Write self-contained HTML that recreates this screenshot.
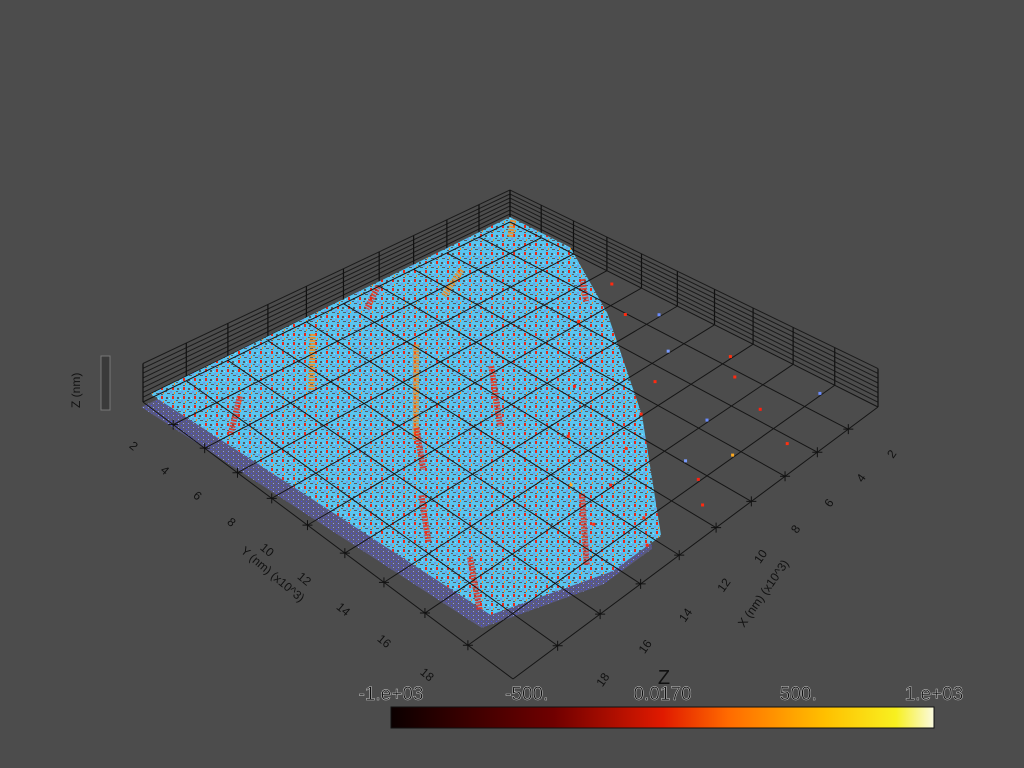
<!DOCTYPE html>
<html><head><meta charset="utf-8"><style>
html,body{margin:0;padding:0;background:#4c4c4c;}
svg{display:block;font-family:"Liberation Sans",sans-serif;}
</style></head><body>
<svg id="chart" width="1024" height="768" viewBox="0 0 1024 768" xmlns="http://www.w3.org/2000/svg">
<defs>
<pattern id="speck" width="11" height="9" patternUnits="userSpaceOnUse">
<rect width="11" height="9" fill="#58c4ef"/>
<rect x="1" y="1" width="2" height="2" fill="#56565c"/>
<rect x="5" y="4" width="2" height="2" fill="#6e9ce6"/>
<rect x="7" y="0" width="2" height="3" fill="#ea2a1a"/>
<rect x="2" y="6" width="3" height="1" fill="#5a5a62"/>
<rect x="4" y="2" width="1" height="1" fill="#8ae2ff"/>
<rect x="9" y="5" width="1" height="2" fill="#ff8a18"/>
<rect x="0" y="4" width="2" height="1" fill="#606068"/>
<rect x="7" y="7" width="2" height="1" fill="#58585e"/>
</pattern>
<pattern id="speck2" width="5" height="4" patternUnits="userSpaceOnUse">
<rect width="5" height="4" fill="#5a5a80"/>
<rect x="1" y="1" width="1" height="1" fill="#4a4af0"/>
<rect x="3" y="3" width="1" height="1" fill="#8c9cf4"/>
</pattern>
<linearGradient id="cbar" x1="0" x2="1" y1="0" y2="0">
<stop offset="0" stop-color="#0b0000"/>
<stop offset="0.3" stop-color="#700000"/>
<stop offset="0.5" stop-color="#e01a00"/>
<stop offset="0.62" stop-color="#ff6a00"/>
<stop offset="0.8" stop-color="#ffc000"/>
<stop offset="0.93" stop-color="#f8f020"/>
<stop offset="1" stop-color="#fafae0"/>
</linearGradient>
</defs>
<g id="walls"></g>
<g id="cloud"></g>
<g id="grid"></g>
<g id="sparse"></g>
<g id="ticks"></g>
<text x="0" y="0" transform="translate(240,552) rotate(40)" font-size="12" fill="#111">Y (nm) (x10^3)</text>
<text x="0" y="0" transform="translate(744,628) rotate(-55)" font-size="12" fill="#111">X (nm) (x10^3)</text>
<text x="0" y="0" transform="translate(80,408) rotate(-90)" font-size="12" fill="#111">Z (nm)</text>
<rect x="101" y="356" width="9" height="54" fill="#3a3a3a" stroke="#777" stroke-width="1"/>
<g>
<text x="664" y="684" font-size="20" text-anchor="middle" fill="#111">Z</text>
<rect x="391" y="707" width="543" height="21" fill="url(#cbar)" stroke="#111" stroke-width="1"/>
<g id="cbticks" font-size="19" fill="#111" stroke="#ccc" stroke-width="0.5"></g>
</g>
</svg>
<script>
const xTicks=[2,4,6,8,10,12,14,16,18];
const yTicks=[2,4,6,8,10,12,14,16,18];
const cbLabels=["-1.e+03","-500.","0.0170","500.","1.e+03"];
const cbValues=[-1000,-500,0.017,500,1000];
// cloud outline in data coords (X,Y) in 10^3 nm (X=0 at right corner side)
const cloudX=[0.2,0.2,3,7.3,12,14.5,18.8,19.8];
const cloudY=[0.2,4,8.7,14.3,19.2,19.2,17.8,0.2];
// red streak clusters
const streakX1=[10.3,9.2,12.4,12.8,17.5,17.5,0.3,8.5,1.8,5,14,16.5];
const streakY1=[4.9,8.1,15.9,1.4,2.8,15.5,0.5,0.5,6.2,2,9,12];
const streakX2=[14.5,11.7,15,15.3,19.2,19,1.5,10,3,7,15.5,18];
const streakY2=[9.5,11.1,18.5,4.4,4.5,17.5,1.5,1.5,7.5,3,11,14];
// sparse outlying points
const sparseX=[0.8,1.2,1.5,2.2,3,3.5,4,5,5.5,6,6.5,7,7.5,8,9,9.5,10,11,11.5,12,12.5,13,1,2.5,4.5,8.5];
const sparseY=[7,10,14,9,12,17,8,13,16,10,18,14,11,17,15,19,13,16,18,15,19,17,18,15,19,18];
const sparseC=["#ff2a10","#6a8cff","#ff3010","#ff2a10","#7a9cff","#ff2010","#ff3010","#ff2a10","#6a8cff","#ff3010","#ffaa20","#ff2a10","#ff2010","#7a9cff","#ff3010","#ff2a10","#ff3010","#ff2010","#ff2a10","#ffaa20","#ff2a10","#ff3010","#6a8cff","#ff2a10","#ff3010","#ff2010"];

const NS="http://www.w3.org/2000/svg";
const P=[[510,222],[143,402],[513,679],[878,407]];
const qx0=P[0][0],qy0=P[0][1],qx1=P[1][0],qy1=P[1][1],qx2=P[2][0],qy2=P[2][1],qx3=P[3][0],qy3=P[3][1];
const dx1=qx1-qx2,dx2=qx3-qx2,dx3=qx0-qx1+qx2-qx3,dy1=qy1-qy2,dy2=qy3-qy2,dy3=qy0-qy1+qy2-qy3;
const den=dx1*dy2-dx2*dy1;
const hg=(dx3*dy2-dx2*dy3)/den,hh=(dx1*dy3-dx3*dy1)/den;
const HA=qx1-qx0+hg*qx1,HB=qx3-qx0+hh*qx3,HC=qx0,HD=qy1-qy0+hg*qy1,HE=qy3-qy0+hh*qy3,HF=qy0;
function proj(X,Y,Z){const u=X/20,v=Y/20,w=hg*u+hh*v+1;return [(HA*u+HB*v+HC)/w,(HD*u+HE*v+HF)/w-(Z||0)/w];}
function mk(tag,attrs,parent){const e=document.createElementNS(NS,tag);for(const k in attrs)e.setAttribute(k,attrs[k]);parent.appendChild(e);return e;}
function pts(arr){return arr.map(p=>p[0].toFixed(1)+","+p[1].toFixed(1)).join(" ");}

const walls=document.getElementById('walls');
for(let k=0;k<=7;k++){
  const z=4+k*4;
  const l1=mk('polyline',{points:pts([proj(20,0,z),proj(0,0,z),proj(0,20,z)]),fill:'none',stroke:'#1a1a1a','stroke-width':1},walls);
  
  
}
for(let t=0;t<=20;t+=2){
  const a=proj(t,0,0),b=proj(t,0,32);
  const l=mk('line',{x1:a[0],y1:a[1],x2:b[0],y2:b[1],stroke:'#111','stroke-width':1.2},walls);
  
  
  const c=proj(0,t,0),d=proj(0,t,32);
  const l2=mk('line',{x1:c[0],y1:c[1],x2:d[0],y2:d[1],stroke:'#111','stroke-width':1.2},walls);
  
  
}

const cloud=document.getElementById('cloud');
const outline=cloudX.map((x,i)=>proj(x,cloudY[i],0));
const under=mk('polygon',{points:pts(outline.map(p=>[p[0]-9,p[1]+5])),fill:'url(#speck2)'},cloud);


const cloudTop=mk('polygon',{points:pts(outline.map(p=>[p[0],p[1]-8])),fill:'url(#speck)'},cloud);


streakX1.forEach((x,i)=>{
  const a=proj(x,streakY1[i],8),b=proj(streakX2[i],streakY2[i],8);
  const l=mk('line',{x1:a[0],y1:a[1],x2:b[0],y2:b[1],stroke:i%3==0?'#ff8a10':'#f02a14','stroke-width':6,'stroke-dasharray':'2 1',opacity:0.8},cloud);
  
  
});

const grid=document.getElementById('grid');
for(let t=0;t<=20;t+=2){
  const a=proj(t,0),b=proj(t,20),c=proj(0,t),d=proj(20,t);
  const l=mk('line',{x1:a[0],y1:a[1],x2:b[0],y2:b[1],stroke:'#151515','stroke-width':1},grid);
  
  
  const l2=mk('line',{x1:c[0],y1:c[1],x2:d[0],y2:d[1],stroke:'#151515','stroke-width':1},grid);
  
  
}

const sp=document.getElementById('sparse');
sparseX.forEach((x,i)=>{
  const p=proj(x,sparseY[i],2);
  const r=mk('rect',{x:p[0]-1.5,y:p[1]-1.5,width:3,height:3,fill:sparseC[i]},sp);
  
  
});

const tk=document.getElementById('ticks');
yTicks.forEach(v=>{
  const p=proj(20,v);
  const c=mk('path',{d:`M${p[0]-5},${p[1]}h10M${p[0]},${p[1]-5}v10`,stroke:'#111','stroke-width':1},tk);
  
  
  const q=proj(21.6,v);
  const t=mk('text',{x:0,y:0,transform:`translate(${q[0]-6},${q[1]+6}) rotate(40)`,'font-size':12,fill:'#111','text-anchor':'middle'},tk);
  t.textContent=v;
  
  
});
xTicks.forEach(v=>{
  const p=proj(v,20);
  const c=mk('path',{d:`M${p[0]-5},${p[1]}h10M${p[0]},${p[1]-5}v10`,stroke:'#111','stroke-width':1},tk);
  
  
  const q=proj(v,21.8);
  const t=mk('text',{x:0,y:0,transform:`translate(${q[0]+6},${q[1]+6}) rotate(-55)`,'font-size':12,fill:'#111','text-anchor':'middle'},tk);
  t.textContent=v;
  
  
});

const cb=document.getElementById('cbticks');
cbLabels.forEach((s,i)=>{
  const x=391+(cbValues[i]+1000)/2000*543;
  const t=mk('text',{x:x,y:700,'text-anchor':'middle'},cb);
  t.textContent=s;
  
  
});
</script>
</body></html>
